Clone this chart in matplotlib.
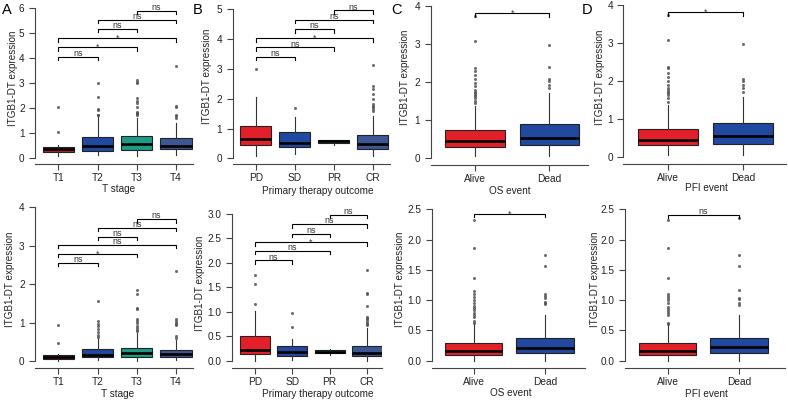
import matplotlib
matplotlib.use("Agg")
import matplotlib.pyplot as plt

plt.rcParams['font.family'] = ['Liberation Sans', 'DejaVu Sans']

W, H = 788, 403
fig = plt.figure(figsize=(W / 100, H / 100), dpi=100)

RED = "#E3202A"
DARKRED = "#B01E2E"
BLUE = "#2149A0"
TEAL = "#1C9C85"
SLATE = "#3C5794"

# ---------------- data ----------------
t_stage = ["T1", "T2", "T3", "T4"]
outcome = ["PD", "SD", "PR", "CR"]
event = ["Alive", "Dead"]
ylab = "ITGB1-DT expression"

# Panel A (top) : T stage
a1_q1 = [0.24, 0.31, 0.33, 0.36]
a1_med = [0.36, 0.50, 0.57, 0.50]
a1_q3 = [0.46, 0.87, 0.89, 0.83]
a1_lo = [0.10, 0.15, 0.08, 0.12]
a1_hi = [0.55, 1.72, 1.60, 1.40]
a1_fl = [[2.05, 1.05],
         [3.0, 2.45, 1.98, 1.95, 1.75, 1.72],
         [3.12, 3.05, 3.0, 2.4, 2.3, 2.2, 2.05, 1.85, 1.82, 1.8, 1.78, 1.75],
         [3.7, 2.1, 2.05, 1.72, 1.68, 1.62]]
a1_sig = ["ns", "*", "*", "ns", "ns", "ns"]
a1_h = [4.07, 4.44, 4.80, 5.17, 5.53, 5.90]

# Panel B (top) : primary therapy outcome
b1_q1 = [0.43, 0.38, 0.53, 0.30]
b1_med = [0.64, 0.53, 0.59, 0.47]
b1_q3 = [1.10, 0.88, 0.63, 0.77]
b1_lo = [0.09, 0.13, 0.44, 0.09]
b1_hi = [2.05, 1.38, 0.63, 1.41]
b1_fl = [[3.0], [1.7], [],
         [3.13, 2.43, 2.32, 2.15, 1.98, 1.82, 1.76, 1.71, 1.66, 1.6]]
b1_sig = ["ns", "ns", "*", "ns", "ns", "ns"]
b1_h = [3.41, 3.72, 4.03, 4.33, 4.64, 4.96]

# Panel C (top) : OS event
c1_q1 = [0.29, 0.35]
c1_med = [0.45, 0.54]
c1_q3 = [0.73, 0.90]
c1_lo = [0.07, 0.06]
c1_hi = [1.38, 1.70]
c1_fl = [[3.74, 3.08, 2.37, 2.29, 2.18, 2.08, 1.97, 1.9, 1.79, 1.75, 1.7, 1.66, 1.62, 1.57, 1.51, 1.45],
         [2.97, 2.4, 2.07, 2.03, 1.93, 1.85]]
c1_sig = ["*"]
c1_h = [3.80]

# Panel D (top) : PFI event
d1_q1 = [0.31, 0.34]
d1_med = [0.45, 0.56]
d1_q3 = [0.74, 0.89]
d1_lo = [0.07, 0.06]
d1_hi = [1.38, 1.59]
d1_fl = [[3.72, 3.08, 2.38, 2.33, 2.2, 2.1, 2.0, 1.9, 1.82, 1.76, 1.72, 1.68, 1.63, 1.55, 1.45],
         [2.98, 2.05, 2.0, 1.9, 1.82, 1.72]]
d1_sig = ["*"]
d1_h = [3.80]

# Panel A (bottom)
a2_q1 = [0.05, 0.095, 0.10, 0.11]
a2_med = [0.10, 0.165, 0.20, 0.17]
a2_q3 = [0.156, 0.31, 0.35, 0.29]
a2_lo = [0.0, 0.02, 0.0, 0.02]
a2_hi = [0.17, 0.60, 0.72, 0.55]
a2_fl = [[0.93, 0.48],
         [1.57, 1.05, 0.97, 0.9, 0.83, 0.75, 0.68, 0.63],
         [1.85, 1.75, 1.37, 1.35, 1.1, 1.05, 0.98, 0.92, 0.85, 0.8, 0.78],
         [2.33, 1.1, 1.05, 1.0, 0.97, 0.93, 0.65, 0.6]]
a2_sig = ["ns", "*", "ns", "ns", "ns", "ns"]
a2_h = [2.56, 2.79, 3.02, 3.24, 3.47, 3.69]

# Panel B (bottom)
b2_q1 = [0.13, 0.10, 0.16, 0.09]
b2_med = [0.22, 0.18, 0.185, 0.16]
b2_q3 = [0.51, 0.31, 0.21, 0.30]
b2_lo = [0.0, 0.02, 0.12, 0.0]
b2_hi = [1.02, 0.44, 0.23, 0.66]
b2_fl = [[1.75, 1.57, 1.15], [0.98, 0.68], [],
         [1.86, 1.38, 1.36, 1.12, 0.9, 0.88, 0.85, 0.82, 0.78, 0.75, 0.72]]
b2_sig = ["ns", "ns", "*", "ns", "ns", "ns"]
b2_h = [2.05, 2.24, 2.42, 2.60, 2.79, 2.98]

# Panel C (bottom)
c2_q1 = [0.095, 0.12]
c2_med = [0.16, 0.21]
c2_q3 = [0.29, 0.38]
c2_lo = [0.0, 0.0]
c2_hi = [0.62, 0.76]
c2_fl = [[2.33, 1.86, 1.37, 1.15, 1.1, 1.05, 1.0, 0.95, 0.9, 0.87, 0.83, 0.79, 0.75, 0.72, 0.65, 0.62],
         [1.74, 1.57, 1.1, 1.07, 1.03, 0.97, 0.95, 0.93]]
c2_sig = ["*"]
c2_h = [2.42]

# Panel D (bottom)
d2_q1 = [0.095, 0.12]
d2_med = [0.16, 0.22]
d2_q3 = [0.29, 0.38]
d2_lo = [0.0, 0.0]
d2_hi = [0.62, 0.76]
d2_fl = [[2.33, 1.86, 1.37, 1.1, 1.07, 1.03, 1.0, 0.95, 0.88, 0.85, 0.82, 0.78, 0.75, 0.62, 0.6],
         [2.35, 1.74, 1.57, 1.16, 1.04, 1.02, 0.95, 0.92]]
d2_sig = ["ns"]
d2_h = [2.41]

pairs4 = [(1, 2), (1, 3), (1, 4), (2, 3), (2, 4), (3, 4)]
pairs2 = [(1, 2)]


def panel(geom, cats, q1, med, q3, lo, hi, fl, colors, pairs, sigs, hts,
          yticks, yfmt, xlabel, xlab_pos, ylab_pos):
    ylpx, xrpx, xaxis_px, top_px, p0_px, step_px, y0_px, yt_px, yt_val = geom
    left, right = ylpx / W, xrpx / W
    bottom, top = 1 - xaxis_px / H, 1 - top_px / H
    ax = fig.add_axes([left, bottom, right - left, top - bottom])
    ppu = (y0_px - yt_px) / yt_val
    ax.set_ylim(-(xaxis_px - y0_px) / ppu, yt_val + (yt_px - top_px) / ppu)
    n = len(cats)
    ax.set_xlim(1 - (p0_px - ylpx) / step_px, 1 + (xrpx - p0_px) / step_px)

    stats = []
    for i in range(n):
        stats.append(dict(med=med[i], q1=q1[i], q3=q3[i], whislo=lo[i],
                          whishi=hi[i], fliers=fl[i], label=cats[i]))
    bp = ax.bxp(stats, positions=list(range(1, n + 1)), widths=0.8,
                patch_artist=True, showcaps=False,
                boxprops=dict(edgecolor="#222222", linewidth=0.8),
                medianprops=dict(color="black", linewidth=1.9, solid_capstyle="butt"),
                whiskerprops=dict(color="#333333", linewidth=0.8),
                flierprops=dict(marker="o", markersize=2.2,
                                markerfacecolor="#555555",
                                markeredgecolor="none", alpha=0.85))
    for patch, c in zip(bp["boxes"], colors):
        patch.set_facecolor(c)

    tip = 3.3 / ppu
    for (a, b), s, h in zip(pairs, sigs, hts):
        ax.plot([a, a, b, b], [h - tip, h, h, h - tip], color="black",
                lw=0.8, clip_on=False, solid_joinstyle="miter")
        off = (0.9 if s == "ns" else -2.6) / ppu
        ax.text((a + b) / 2, h + off, s, ha="center", va="baseline",
                fontsize=6.4, color="#333333", clip_on=False)

    for side in ("top", "right"):
        ax.spines[side].set_visible(False)
    for side in ("left", "bottom"):
        ax.spines[side].set_color("#444444")
        ax.spines[side].set_linewidth(0.8)
    ax.spines["left"].set_bounds(yticks[0], yticks[-1])
    ax.set_yticks(yticks)
    ax.set_yticklabels([yfmt.format(v) for v in yticks])
    ax.set_xticks(list(range(1, n + 1)))
    ax.set_xticklabels(cats)
    ax.tick_params(axis="y", length=4, width=0.8, color="#444444",
                   labelsize=7.2, pad=3.5, labelcolor="#222222")
    ax.tick_params(axis="x", length=4, width=0.8, color="#444444",
                   labelsize=7.3, pad=2.5, labelcolor="#222222")
    ax.set_facecolor("none")
    fig.text(xlab_pos[0] / W, 1 - xlab_pos[1] / H, xlabel, ha="center",
             va="center", fontsize=7.2, color="#222222")
    fig.text(ylab_pos[0] / W, 1 - ylab_pos[1] / H, ylab, ha="center",
             va="center", rotation=90, fontsize=7.1, color="#222222")
    return ax


red_blue = [RED, BLUE]

# top row
panel((35, 193, 164, 2, 58.3, 39.2, 158.3, 8.3, 6), t_stage,
      a1_q1, a1_med, a1_q3, a1_lo, a1_hi, a1_fl, [DARKRED, BLUE, TEAL, SLATE],
      pairs4, a1_sig, a1_h, [0, 1, 2, 3, 4, 5, 6], "{:g}", "T stage",
      (119, 189), (13.5, 78))
panel((232.7, 390, 164, 2, 255.7, 39.0, 158.3, 9.3, 5), outcome,
      b1_q1, b1_med, b1_q3, b1_lo, b1_hi, b1_fl, [RED, BLUE, TEAL, SLATE],
      pairs4, b1_sig, b1_h, [0, 1, 2, 3, 4, 5], "{:g}", "Primary therapy outcome",
      (318, 190.5), (207, 76))
panel((430.7, 588, 164.5, 2, 475, 74.3, 158.3, 5.7, 4), event,
      c1_q1, c1_med, c1_q3, c1_lo, c1_hi, c1_fl, red_blue,
      pairs2, c1_sig, c1_h, [0, 1, 2, 3, 4], "{:g}", "OS event",
      (510, 190.5), (405.3, 77))
panel((623.3, 786, 164, 2, 668.3, 75.0, 157.3, 4.7, 4), event,
      d1_q1, d1_med, d1_q3, d1_lo, d1_hi, d1_fl, red_blue,
      pairs2, d1_sig, d1_h, [0, 1, 2, 3, 4], "{:g}", "PFI event",
      (706, 188), (600.3, 77))

# bottom row
panel((35, 193, 368.3, 203, 58.3, 39.2, 361, 207.3, 4), t_stage,
      a2_q1, a2_med, a2_q3, a2_lo, a2_hi, a2_fl, [DARKRED, BLUE, TEAL, SLATE],
      pairs4, a2_sig, a2_h, [0, 1, 2, 3, 4], "{:g}", "T stage",
      (117.5, 394), (10.3, 279))
panel((231.7, 382, 368.3, 203, 255, 37.3, 360.7, 214, 3), outcome,
      b2_q1, b2_med, b2_q3, b2_lo, b2_hi, b2_fl, [RED, BLUE, TEAL, SLATE],
      pairs4, b2_sig, b2_h, [0.0, 0.5, 1.0, 1.5, 2.0, 2.5, 3.0], "{:.1f}",
      "Primary therapy outcome", (318, 394), (200.3, 283.5))
panel((431.7, 585, 368.3, 203, 473.5, 71.5, 360.7, 209.3, 2.5), event,
      c2_q1, c2_med, c2_q3, c2_lo, c2_hi, c2_fl, red_blue,
      pairs2, c2_sig, c2_h, [0.0, 0.5, 1.0, 1.5, 2.0, 2.5], "{:.1f}",
      "OS event", (511, 393), (400.3, 279))
panel((625, 785, 367.7, 203, 667.7, 71.3, 360.7, 209.3, 2.5), event,
      d2_q1, d2_med, d2_q3, d2_lo, d2_hi, d2_fl, red_blue,
      pairs2, d2_sig, d2_h, [0.0, 0.5, 1.0, 1.5, 2.0, 2.5], "{:.1f}",
      "PFI event", (706, 394), (594.7, 279))

# panel letters
for lbl, x in [("A", 1.5), ("B", 193), ("C", 391.5), ("D", 582)]:
    fig.text(x / W, 1 - 10 / H, lbl, ha="left", va="center", fontsize=10.5,
             color="black")

fig.savefig("out.png", dpi=100)
